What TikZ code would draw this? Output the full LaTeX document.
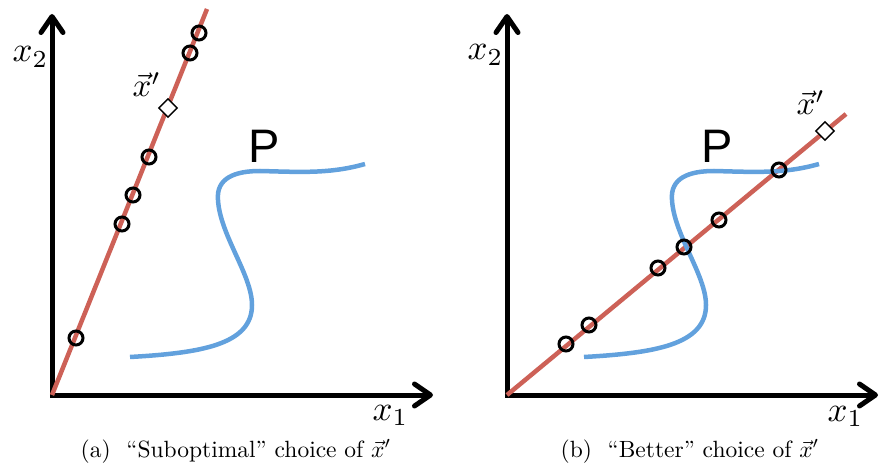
\documentclass[tikz,border=0pt]{standalone}
\usepackage{fontspec}
\newfontfamily\Pfont{Liberation Sans}
\usetikzlibrary{arrows.meta,shapes.geometric}
\definecolor{lred}{RGB}{205,97,87}
\definecolor{lblue}{RGB}{98,161,221}
\begin{document}
\begin{tikzpicture}[x=1pt,y=-1pt,
  axis/.style={line width=5pt,line join=miter,
    {Straight Barb[length=16pt,width=22pt,round]}-{Straight Barb[length=16pt,width=22pt,round]}},
  rline/.style={lred,line width=4.5pt},
  pcurve/.style={lblue,line width=4.5pt},
  pt/.style={circle,draw=black,line width=3pt,minimum size=14pt,inner sep=0pt},
  dmd/.style={diamond,draw=black,fill=white,line width=1.4pt,minimum size=19pt,inner sep=0pt},
  axlab/.style={anchor=base west,inner sep=0pt,font=\fontsize{10}{12}\selectfont,scale=3.5},
  xplab/.style={anchor=base west,inner sep=0pt,font=\fontsize{10}{12}\selectfont,scale=3.3},
  plab/.style={anchor=base west,inner sep=0pt,font=\Pfont\fontsize{47}{52}\selectfont},
  captxt/.style={anchor=base,inner sep=0pt,font=\fontsize{10}{12}\selectfont,scale=2.35}]
\useasboundingbox (0,0) rectangle (880,465);

% ---------- panel (a) ----------
\coordinate (oa) at (52,395);
\coordinate (ya) at (52,14);
\coordinate (xa) at (433,395);
\coordinate (ea) at (207,9);
\draw[axis] (ya) -- (oa) -- (xa);
\draw[rline] (oa) -- (ea);
\draw[pcurve] (130,357) .. controls (200,353) and (252,345) .. (252,305)
  .. controls (252,275) and (220,235) .. (218,200)
  .. controls (216,178) and (235,171) .. (260,171)
  .. controls (300,172) and (330,174) .. (365,164);
\node[pt] (a1) at (76,338) {};
\node[pt] (a2) at (122,224) {};
\node[pt] (a3) at (133,195) {};
\node[pt] (a4) at (149,157) {};
\node[pt] (a5) at (190,53) {};
\node[pt] (a6) at (199,33) {};
\node[dmd] (da) at (168,108) {};
\node[axlab] (x2a) at (12,62) {$x_2$};
\node[axlab] (x1a) at (372,420) {$x_1$};
\node[xplab] (xpa) at (132,97) {$\vec{x}'$};
\node[plab] (pa) at (248,163) {P};
\node[captxt] (capa) at (236,457) {(a)\ \ “Suboptimal” choice of $\vec{x}'$};

% ---------- panel (b) ----------
\coordinate (ob) at (507,395);
\coordinate (yb) at (507,14);
\coordinate (xb) at (878,395);
\coordinate (eb) at (846,114);
\draw[axis] (yb) -- (ob) -- (xb);
\draw[rline] (ob) -- (eb);
\begin{scope}[shift={(454,0)}]
\draw[pcurve] (130,357) .. controls (200,353) and (252,345) .. (252,305)
  .. controls (252,275) and (220,235) .. (218,200)
  .. controls (216,178) and (235,171) .. (260,171)
  .. controls (300,172) and (330,174) .. (365,164);
\end{scope}
\node[pt] (b1) at (566,344) {};
\node[pt] (b2) at (589,325) {};
\node[pt] (b3) at (658,268) {};
\node[pt] (b4) at (684,247) {};
\node[pt] (b5) at (719,220) {};
\node[pt] (b6) at (779,170) {};
\node[dmd] (db) at (825,131) {};
\node[axlab] (x2b) at (467,60) {$x_2$};
\node[axlab] (x1b) at (827,421) {$x_1$};
\node[xplab] (xpb) at (796,115) {$\vec{x}'$};
\node[plab] (pb) at (701,163) {P};
\node[captxt] (capb) at (690,457) {(b)\ \ “Better” choice of $\vec{x}'$};
\end{tikzpicture}
\end{document}
